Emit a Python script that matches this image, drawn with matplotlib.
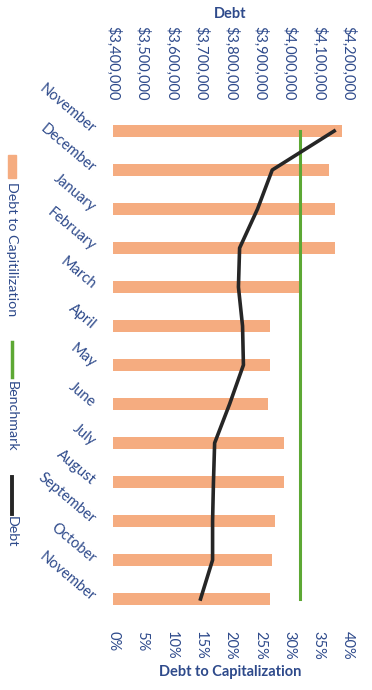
import matplotlib
matplotlib.use('Agg')
import matplotlib.pyplot as plt
from matplotlib.ticker import FuncFormatter
from matplotlib.lines import Line2D
from matplotlib.patches import Rectangle

plt.rcParams['font.family'] = ['Lato', 'DejaVu Sans']

months = ['November', 'December', 'January', 'February', 'March', 'April', 'May',
          'June', 'July', 'August', 'September', 'October', 'November']
debt_to_cap = [0.39, 0.368, 0.378, 0.378, 0.318, 0.267, 0.267,
               0.264, 0.291, 0.291, 0.276, 0.270, 0.267]
benchmark = [0.318] * 13
debt = [4153000, 3942000, 3892000, 3831000, 3827000, 3841000, 3844000,
        3797000, 3746000, 3742000, 3739000, 3739000, 3698000]

blue = '#2E4A8B'
orange = '#F5AC80'
green = '#5DA834'

fig = plt.figure(figsize=(3.72, 6.90), dpi=100)
ax = fig.add_axes([113 / 372, 1 - 618.5 / 690, 235 / 372, 507 / 690])

y = list(range(len(months)))
ax.barh(y, debt_to_cap, height=0.3, color=orange, zorder=2)
ax.plot(benchmark, y, color=green, lw=2.2, zorder=3)
ax.set_xlim(0, 0.40)
ax.set_ylim(len(months) - 0.5, -0.5)
ax.set_xticks([i * 0.05 for i in range(9)])
ax.xaxis.set_major_formatter(FuncFormatter(lambda v, p: f'{v * 100:.0f}%'))
ax.set_yticks(y)
ax.set_yticklabels(months)
ax.tick_params(axis='x', length=0, pad=9, labelsize=10.5, labelcolor=blue, labelrotation=-90)
ax.tick_params(axis='y', length=0, pad=14, labelsize=10.5, labelcolor=blue)
for lab in ax.get_yticklabels():
    lab.set_rotation(-40)
    lab.set_ha('right')
    lab.set_va('center')
    lab.set_rotation_mode('anchor')
ax.set_xlabel('Debt to Capitalization', color=blue, fontsize=10.5, fontweight='bold', labelpad=4)

ax2 = ax.twiny()
ax2.plot(debt, y, color='#262626', lw=2.6, zorder=4)
ax2.set_xlim(3400000, 4200000)
ax2.set_xticks(range(3400000, 4200001, 100000))
ax2.xaxis.set_major_formatter(FuncFormatter(lambda v, p: f'${v:,.0f}'))
ax2.tick_params(axis='x', length=0, pad=8, labelsize=10.5, labelcolor=blue, labelrotation=-90)
ax2.set_xlabel('Debt', color=blue, fontsize=10.5, fontweight='bold', labelpad=6)

for a in (ax, ax2):
    for s in a.spines.values():
        s.set_visible(False)

# legend drawn sideways down the left edge
fig.patches.append(Rectangle((8 / 372, 1 - 178 / 690), 8 / 372, 23 / 690,
                             transform=fig.transFigure, color=orange))
fig.text(12 / 372, 1 - 182 / 690, 'Debt to Capitilization', rotation=-90,
         ha='center', va='top', color=blue, fontsize=10.3)
fig.lines.append(Line2D([12 / 372, 12 / 372], [1 - 342 / 690, 1 - 377 / 690],
                        transform=fig.transFigure, color=green, lw=2.5))
fig.text(12 / 372, 1 - 381 / 690, 'Benchmark', rotation=-90,
         ha='center', va='top', color=blue, fontsize=10.3)
fig.lines.append(Line2D([12 / 372, 12 / 372], [1 - 477 / 690, 1 - 514 / 690],
                        transform=fig.transFigure, color='#262626', lw=2.8))
fig.text(12 / 372, 1 - 516 / 690, 'Debt', rotation=-90,
         ha='center', va='top', color=blue, fontsize=10.3)

fig.savefig('out.png', dpi=100)
